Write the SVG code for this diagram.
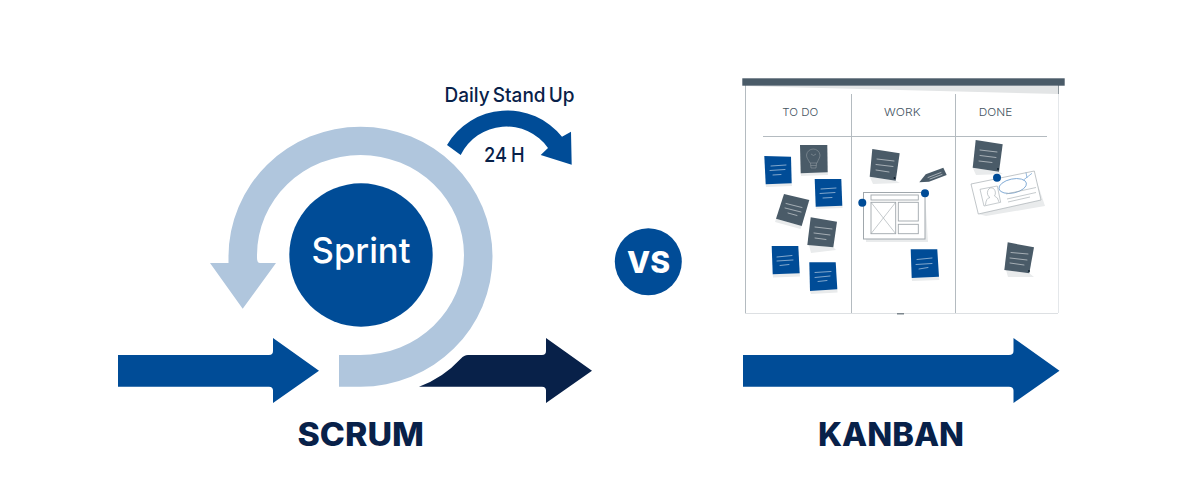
<svg xmlns="http://www.w3.org/2000/svg" width="1200" height="498" viewBox="0 0 1200 498">
<style>
.blue{fill:#004c97}
.light{fill:#b0c6dd}
.dark{fill:#082149}
.slate{fill:#4a5b68}
.shadow{fill:#e9ebec}
.txt{font-family:Inter,"Liberation Sans",sans-serif;fill:#082149}
.col{font-family:Inter,"Liberation Sans",sans-serif;font-size:10.5px;font-weight:300;fill:#44545f}
.note line{stroke:#fff;stroke-width:1;stroke-opacity:.5;stroke-linecap:round}
.rule{stroke:#b4bbc0;stroke-width:1;fill:none}
.wire{stroke:#a0a7ac;stroke-width:.9;fill:none}
.wire2{stroke:#a0a7ac;stroke-width:.6;fill:none}
</style>
<rect width="1200" height="498" fill="#fff"/>

<g id="connectors">
<path id="arrow-in" class="blue" d="M118 355H269Q273 355 273 351V338L319 370.7L273 403V390.500Q273 386.700 269 386.700H118Z"/>
<path id="arrow-out" class="dark" d="M419 386.700Q443 378 461 358.500Q464 355 468 355H542Q546 355 546 351V338L592 370.700L546 403V390.500Q546 386.700 542 386.700Z"/>
<path id="arrow-kanban" class="blue" d="M743 355H1009Q1013.500 355 1013.500 351V338L1059.500 370.700L1013.500 403V390.500Q1013.500 386.700 1009 386.700H743Z"/>
<path id="sprint-loop" class="light" d="M339 386.700H360.500A132 130 0 1 0 228.500 256.700V263H210L242.700 308.700L276 263H260Q257 263 257 258V255A103.500 100 0 1 1 360.500 355H339Z"/>
<path id="daily-loop" class="blue" d="M447 145A70 70 0 0 1 562 136.700L571 131.700L571.700 164.700L540.700 155L548 148A51 51 0 0 0 460.700 155Z"/>
</g>

<g id="sprint">
<circle class="blue" cx="361" cy="255" r="71.700"/>
<text x="311.500" y="263" font-family="Inter,'Liberation Sans',sans-serif" font-size="35" font-weight="500" fill="#fff" textLength="99" lengthAdjust="spacingAndGlyphs">Sprint</text>
</g>
<g id="daily-labels">
<text class="txt" x="444.500" y="102" font-size="20" font-weight="500" word-spacing="-2" textLength="130" lengthAdjust="spacingAndGlyphs">Daily Stand Up</text>
<text class="txt" x="484" y="162" font-size="20" font-weight="500" word-spacing="-1" textLength="40.500" lengthAdjust="spacingAndGlyphs">24 H</text>
</g>
<g id="scrum-label">
<text class="txt" x="297.500" y="446" font-size="32" font-weight="800" textLength="126.500" lengthAdjust="spacingAndGlyphs">SCRUM</text>
</g>
<g id="vs">
<circle class="blue" cx="648.300" cy="261.700" r="33.500"/>
<text x="627" y="273" font-family="Inter,'Liberation Sans',sans-serif" font-size="30" font-weight="800" fill="#fff" textLength="43" lengthAdjust="spacingAndGlyphs">VS</text>
</g>
<g id="kanban-label">
<text class="txt" x="818" y="446" font-size="32" font-weight="800" textLength="146" lengthAdjust="spacingAndGlyphs">KANBAN</text>
</g>

<g id="board">
<polygon points="745,86 1058,86 1058,94" fill="#e3e5e6"/>
<path d="M745.500 85V313.500" stroke="#b4bbc0" fill="none"/>
<path d="M1058.500 85V94" stroke="#8f989e" fill="none"/>
<path d="M1058.500 94V313" stroke="#e4e7ea" fill="none"/>
<path d="M745 313.500H1058" stroke="#dde0e3" fill="none"/>
<rect x="897" y="313" width="7" height="1.500" fill="#7d878e"/>
<path class="rule" d="M851.500 94V313M955.500 94V313M763 136.500H1047"/>
<rect class="slate" x="742.300" y="78.300" width="322.400" height="7.400"/>
<text class="col" x="782.300" y="115.800" textLength="36" lengthAdjust="spacingAndGlyphs">TO DO</text>
<text class="col" x="884" y="115.800" textLength="36.500" lengthAdjust="spacingAndGlyphs">WORK</text>
<text class="col" x="978.700" y="115.800" textLength="33.500" lengthAdjust="spacingAndGlyphs">DONE</text>
</g>

<g id="note-1" class="note">
<polygon class="shadow" points="765.700,184 791.700,183 792,186 766,187"/>
<polygon class="blue" points="764.300,156 791,156.700 791.700,183.300 765.700,184.300"/>
<line x1="771" y1="166" x2="786" y2="165"/><line x1="770" y1="170.500" x2="785" y2="169.500"/><line x1="773" y1="175" x2="781" y2="174.500"/>
</g>
<g id="note-2" class="note">
<polygon class="shadow" points="800.700,173 827.700,172 828,175 801,176"/>
<polygon class="slate" points="800,145 827.300,145 827.700,172.300 800.700,173.300"/>
<path d="M810 163C808 159 806.500 158 806.500 155A6.800 6.800 0 0 1 820 155C820 158 818.500 159 817 163ZM810.500 163L811 168H816L816.500 163M810.500 165.500H816.500M811 154Q813.500 157 816 154" fill="none" stroke="#8e989f" stroke-width=".6"/>
</g>
<g id="note-3" class="note">
<polygon class="shadow" points="815.700,206 842.300,205 842.600,208 816,209"/>
<polygon class="blue" points="814.700,179 841.300,179 842.300,205.700 815.700,206.700"/>
<line x1="821" y1="189" x2="836" y2="188"/><line x1="820" y1="193.500" x2="835" y2="192.500"/><line x1="823" y1="198" x2="832" y2="197.500"/>
</g>
<g id="note-4" class="note">
<polygon class="shadow" points="776,218.700 801.700,226 800.500,229 775,222"/>
<polygon class="slate" points="784,194 809.300,200 801.700,226 776,218.700"/>
<line x1="786" y1="203.500" x2="802" y2="207.500"/><line x1="785" y1="208" x2="801" y2="212"/><line x1="788" y1="213" x2="797" y2="215.500"/>
</g>
<g id="note-5" class="note">
<polygon class="shadow" points="809,245 833.300,247.300 836,250 811,253"/>
<polygon class="slate" points="810.700,217.300 837,221.700 833.300,247.300 807.300,245"/>
<line x1="815" y1="227" x2="832" y2="229"/><line x1="814" y1="233" x2="830" y2="235"/><line x1="815" y1="238" x2="826" y2="239.500"/>
</g>
<g id="note-6" class="note">
<polygon class="shadow" points="772.700,274 799.700,273 800,276.500 773,277.500"/>
<polygon class="blue" points="771.700,246 798.300,246 799.700,273.300 772.700,274.300"/>
<line x1="777" y1="257" x2="792" y2="255.500"/><line x1="777" y1="261" x2="793" y2="260"/><line x1="780" y1="265.500" x2="789" y2="264.500"/>
</g>
<g id="note-7" class="note">
<polygon class="shadow" points="810,291 837.300,289.300 837.600,292.500 811,294"/>
<polygon class="blue" points="809.300,262.300 835.700,262.300 837.300,289.300 810,291"/>
<line x1="815" y1="272.500" x2="831" y2="271.500"/><line x1="815" y1="277.500" x2="830" y2="276"/><line x1="818" y1="281.500" x2="827" y2="280.500"/>
</g>
<g id="note-8" class="note">
<polygon class="shadow" points="869.700,176.700 895.700,180.700 900,183 873,184"/>
<polygon class="slate" points="872.300,149 899.700,153.300 895.700,180.700 869.700,176.700"/>
<line x1="877" y1="159" x2="894" y2="161"/><line x1="876" y1="164.500" x2="893" y2="166.500"/><line x1="876" y1="170" x2="889" y2="172"/>
<circle cx="894.500" cy="178" r=".9" fill="#0a1a28"/>
</g>
<g id="pencil" class="note">
<polygon class="slate" points="919.300,182.300 925.700,174.300 943.300,167.700 946.700,175 929,181.700"/>
<line x1="928" y1="177.500" x2="941" y2="172.500"/><line x1="930" y1="179" x2="942" y2="174.500"/>
</g>
<g id="wireframe">
<polygon class="shadow" points="925,193 928,242 866,242 866,239 925,239"/>
<rect x="863.500" y="192.500" width="61.500" height="46.500" fill="#fff" stroke="#a0a7ac" stroke-width="1"/>
<rect class="wire" x="871" y="195" width="47.300" height="5"/>
<rect class="wire" x="871" y="202.300" width="24.700" height="31.400"/>
<path class="wire2" d="M871 202.300L895.700 233.700M895.700 202.300L871 233.700"/>
<rect class="wire" x="898.300" y="202.300" width="20" height="18.700"/>
<rect class="wire" x="898.300" y="224.300" width="20" height="9.400"/>
<circle class="blue" cx="862.300" cy="202.700" r="4"/>
<circle class="blue" cx="925" cy="193.300" r="4"/>
</g>
<g id="note-9" class="note">
<polygon class="shadow" points="911.700,278 939,276.700 939.300,280 912,281"/>
<polygon class="blue" points="910.700,249.300 937.300,249.300 939,276.700 911.700,278"/>
<line x1="917" y1="259.500" x2="932" y2="258"/><line x1="916" y1="264.500" x2="932" y2="263.500"/><line x1="919" y1="269" x2="928" y2="267.500"/>
</g>
<g id="note-10" class="note">
<polygon class="shadow" points="1006,270 1029.300,273.300 1034,277 1008,277"/>
<polygon class="slate" points="1007.700,242.300 1034,247.300 1029.300,273.300 1004.300,270"/>
<line x1="1011" y1="252.500" x2="1028" y2="254"/><line x1="1010" y1="258" x2="1027" y2="260"/><line x1="1010" y1="263" x2="1024" y2="265"/>
<circle cx="1029" cy="271" r=".9" fill="#0a1a28"/>
</g>
<g id="card">
<polygon class="shadow" points="1034,173 1045,206 986,216 978,214 1041,200"/>
<polygon points="971,184 1034.300,171 1041,200 978.300,214" fill="#fff" stroke="#a6adb2" stroke-width=".7"/>
<polygon class="wire2" points="980,189.300 997.300,186 1000.700,202.300 984,206"/>
<path class="wire2" d="M985.500 205Q986 198 990 197.500A4 5 0 1 1 994.500 196Q998 197 999 202"/>
<ellipse cx="1012.700" cy="186" rx="14" ry="7" transform="rotate(-12 1012.700 186)" fill="#fff" stroke="#6f9fd0" stroke-width=".8"/>
<path d="M1023.500 180L1032 173.300M1026 172.500L1027 178" fill="none" stroke="#6f9fd0" stroke-width=".7"/>
<path class="wire2" d="M1006 194L1036 187.500M1007 199L1036 192.500M1008 202L1030 197"/>
</g>
<g id="note-11" class="note">
<polygon class="shadow" points="972.700,167.700 999,171.700 1003,174 976,175"/>
<polygon class="slate" points="975.700,140 1002.700,144.300 999,171.700 972.700,167.700"/>
<line x1="980" y1="150" x2="997" y2="152"/><line x1="980" y1="155.500" x2="996" y2="157.500"/><line x1="979" y1="161" x2="992" y2="162.500"/>
<circle cx="998" cy="169" r=".9" fill="#0a1a28"/>
</g>
<circle id="card-pin" class="blue" cx="997" cy="177.700" r="4"/>
</svg>
